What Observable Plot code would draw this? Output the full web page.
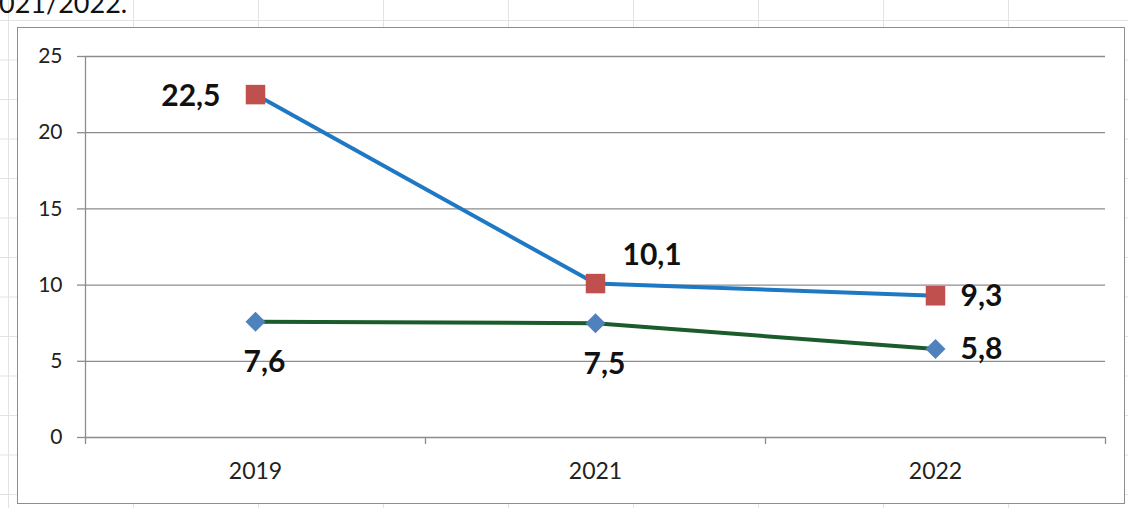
<!DOCTYPE html>
<html>
<head>
<meta charset="utf-8">
<script src="https://cdn.jsdelivr.net/npm/d3@7"></script>
<script src="https://cdn.jsdelivr.net/npm/@observablehq/plot@0.6"></script>
<style>
  html, body { margin: 0; padding: 0; }
  body {
    width: 1128px; height: 508px; position: relative; overflow: hidden;
    background-color: #fff;
    /* worksheet cell grid behind the chart object */
    background-image:
      linear-gradient(to right, #e3e3e3 1px, transparent 1px),
      linear-gradient(to bottom, #e3e3e3 1px, transparent 1px);
    background-size: 125px 39.5px;
    background-position: 8px 20px;
    font-family: Lato, sans-serif;
  }
  #title {
    position: absolute; left: -1px; top: -11px;
    font: 27px/27px Lato, sans-serif; color: #111; white-space: nowrap;
  }
  #frame {
    position: absolute; left: 17px; top: 27px; width: 1108px; height: 477px;
    box-sizing: border-box; border: 1.5px solid #8e8e8e; background: #fff;
  }
  #chart { position: absolute; left: 0; top: 0; }
</style>
</head>
<body>
<div id="title">021/2022.</div>
<div id="frame"></div>
<div id="chart"></div>
<script>
// School years shown on the category axis
const years = ["2019", "2021", "2022"];
// Upper series (blue line, red square markers)
const seriesUpper = [22.5, 10.1, 9.3];
// Lower series (green line, blue diamond markers)
const seriesLower = [7.6, 7.5, 5.8];
// Value axis ticks
const yTicks = [0, 5, 10, 15, 20, 25];

const rows = years.map((year, i) => ({ i, year, up: seriesUpper[i], low: seriesLower[i] }));
const fmt = v => v.toFixed(1).replace(".", ",");
// category boundaries (between the bands)
const bounds = d3.range(years.length + 1).map(k => k - 0.5);

const gray = "#8c8c8c";
const labelStyle = { fontSize: 30, fontWeight: "bold", fill: "#111", fontFamily: "Lato, sans-serif" };

const chart = Plot.plot({
  width: 1128,
  height: 508,
  marginLeft: 85,
  marginRight: 23,
  marginTop: 56,
  marginBottom: 71,
  style: { background: "transparent", fontFamily: "Lato, sans-serif", color: "#222", overflow: "visible" },
  x: { type: "linear", domain: [-0.5, years.length - 0.5], axis: null },
  y: { domain: [0, 25], axis: null },
  marks: [
    // horizontal gridlines, including the baseline at 0
    Plot.ruleY(yTicks, { stroke: gray, strokeWidth: 1.3 }),
    // value axis: line, outward ticks and labels
    Plot.ruleX([-0.5], { y1: 0, y2: 25, stroke: gray, strokeWidth: 1.3 }),
    Plot.axisY({ ticks: yTicks, tickSize: 8, tickPadding: 15, fontSize: 21, stroke: gray, fill: "#222", strokeWidth: 1.3, label: null }),
    // category axis: ticks between bands, year labels in the band centres
    Plot.axisX({ ticks: bounds, tickSize: 7, tickFormat: () => "", stroke: gray, strokeWidth: 1.3, label: null }),
    Plot.axisX({ ticks: d3.range(years.length), tickSize: 0, tickPadding: 25, tickFormat: i => years[i], fontSize: 23, fill: "#222", label: null }),
    // series lines
    Plot.line(rows, { x: "i", y: "low", stroke: "#1b5c2c", strokeWidth: 4 }),
    Plot.line(rows, { x: "i", y: "up", stroke: "#1f78c4", strokeWidth: 4 }),
    // markers
    Plot.dot(rows, { x: "i", y: "up", symbol: "square", r: 11, fill: "#c0504d", stroke: null }),
    Plot.dot(rows, { x: "i", y: "low", symbol: "diamond2", r: 9, fill: "#4f81bd", stroke: null }),
    // value labels, upper series
    Plot.text(rows, { filter: d => d.i === 0, x: "i", y: "up", text: d => fmt(d.up), textAnchor: "end", dx: -35, dy: 2, ...labelStyle }),
    Plot.text(rows, { filter: d => d.i === 1, x: "i", y: "up", text: d => fmt(d.up), textAnchor: "start", dx: 27, dy: -28, ...labelStyle }),
    Plot.text(rows, { filter: d => d.i === 2, x: "i", y: "up", text: d => fmt(d.up), textAnchor: "start", dx: 25, dy: 1, ...labelStyle }),
    // value labels, lower series
    Plot.text(rows, { filter: d => d.i < 2, x: "i", y: "low", text: d => fmt(d.low), textAnchor: "middle", dx: 9, dy: 41, ...labelStyle }),
    Plot.text(rows, { filter: d => d.i === 2, x: "i", y: "low", text: d => fmt(d.low), textAnchor: "start", dx: 25, dy: 0, ...labelStyle })
  ]
});
document.getElementById("chart").appendChild(chart);
</script>
</body>
</html>
